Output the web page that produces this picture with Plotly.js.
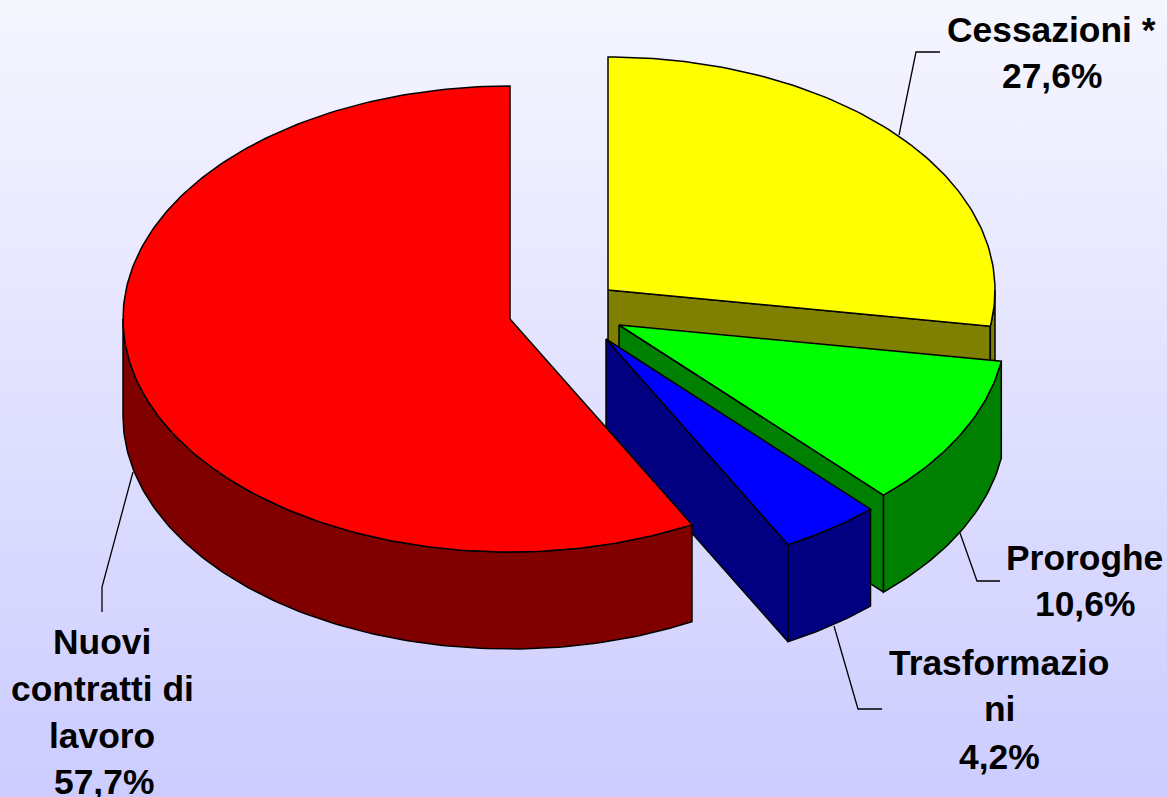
<!DOCTYPE html>
<html>
<head>
<meta charset="utf-8">
<script src="https://cdn.plot.ly/plotly-3.0.1.min.js"></script>
<style>
html,body{margin:0;padding:0;width:1167px;height:797px;overflow:hidden;background:linear-gradient(180deg,#f6f6ff 0%,#ccccff 100%);}
#chart{width:1167px;height:797px;}
</style>
</head>
<body>
<div id="chart"></div>
<script>
// Data
var categories = ['Cessazioni *', 'Proroghe', 'Trasformazioni', 'Nuovi contratti di lavoro'];
var shares = [27.6, 10.6, 4.2, 57.7];
var shareLabels = ['27,6%', '10,6%', '4,2%', '57,7%'];

// Styling
var topColors = ['#ffff00', '#00ff00', '#0000ff', '#ff0000'];
var wallColors = ['#808000', '#008000', '#000080', '#800000'];
var centerX = [608, 619, 606, 510];
var centerY = [290, 325, 339, 319];
var radiusX = 387, radiusY = 233, depth = 97;
var viewSkew = 0.005;

// Label lines: [text, x, y]
var labelLines = [
  ['Cessazioni *', 1051, 30], ['27,6%', 1052, 76],
  ['Proroghe', 1084, 558], ['10,6%', 1085, 604],
  ['Trasformazio', 999, 663], ['ni', 999, 709], ['4,2%', 999, 757],
  ['Nuovi', 102, 642], ['contratti di', 102, 689], ['lavoro', 102, 736], ['57,7%', 104, 782]
];
var leaderPaths = [
  'M899,135 L916,52 L940,52',
  'M960,533 L977,581 L1000,581',
  'M834,626 L858,709 L882,709',
  'M133,472 L102,587 L102,612'
];

function view(a) { return a - viewSkew * (1 - Math.cos(a)); }
function arcPts(i, a0, a1, dy) {
  var n = Math.max(2, Math.ceil(Math.abs(a1 - a0) * 60)), xs = [], ys = [];
  for (var k = 0; k <= n; k++) {
    var a = a0 + (a1 - a0) * k / n;
    xs.push(centerX[i] + radiusX * Math.sin(a));
    ys.push(centerY[i] - radiusY * Math.cos(a) + dy);
  }
  return [xs, ys];
}
function poly(xs, ys, color, name) {
  return {
    type: 'scatter', mode: 'lines', x: xs, y: ys, fill: 'toself', fillcolor: color,
    line: {color: '#000000', width: 1.5}, name: name, hoverinfo: 'name', showlegend: false
  };
}

var traces = [];
var total = shares.reduce(function (s, v) { return s + v; }, 0);
var cum = 0;
shares.forEach(function (v, i) {
  var a0 = view(cum / total * 2 * Math.PI);
  cum += v;
  var a1 = view(cum / total * 2 * Math.PI);
  var name = categories[i] + ' ' + shareLabels[i];
  var ex = radiusX * Math.sin(a1), ey = -radiusY * Math.cos(a1);

  // Cut wall at the trailing edge, when it faces the viewer
  if (Math.sin(a1) > 1e-6) {
    traces.push(poly(
      [centerX[i], centerX[i] + ex, centerX[i] + ex, centerX[i], centerX[i]],
      [centerY[i], centerY[i] + ey, centerY[i] + ey + depth, centerY[i] + depth, centerY[i]],
      wallColors[i], name));
  }
  // Outer wall: only the front half of the rim is visible
  var w0 = Math.max(a0, Math.PI / 2), w1 = Math.min(a1, 1.5 * Math.PI);
  if (w1 > w0) {
    var up = arcPts(i, w0, w1, 0), dn = arcPts(i, w1, w0, depth);
    traces.push(poly(up[0].concat(dn[0], [up[0][0]]), up[1].concat(dn[1], [up[1][0]]), wallColors[i], name));
  }
  // Top face
  var t = arcPts(i, a0, a1, 0);
  traces.push(poly([centerX[i]].concat(t[0], [centerX[i]]), [centerY[i]].concat(t[1], [centerY[i]]), topColors[i], name));
});

var layout = {
  width: 1167, height: 797,
  margin: {l: 0, r: 0, t: 0, b: 0},
  paper_bgcolor: 'rgba(0,0,0,0)', plot_bgcolor: 'rgba(0,0,0,0)',
  showlegend: false, hovermode: 'closest',
  xaxis: {range: [0, 1167], visible: false, fixedrange: true},
  yaxis: {range: [797, 0], visible: false, fixedrange: true},
  shapes: leaderPaths.map(function (p) {
    return {type: 'path', path: p, xref: 'x', yref: 'y', line: {color: '#000000', width: 1.3}, layer: 'below'};
  }),
  annotations: labelLines.map(function (l) {
    return {
      text: '<b>' + l[0] + '</b>', x: l[1], y: l[2], xref: 'x', yref: 'y', showarrow: false,
      xanchor: 'center', yanchor: 'middle',
      font: {family: '"Liberation Sans", Arial, sans-serif', size: 35.4, color: '#000000'}
    };
  })
};
Plotly.newPlot('chart', traces, layout, {displayModeBar: false});
</script>
</body>
</html>
